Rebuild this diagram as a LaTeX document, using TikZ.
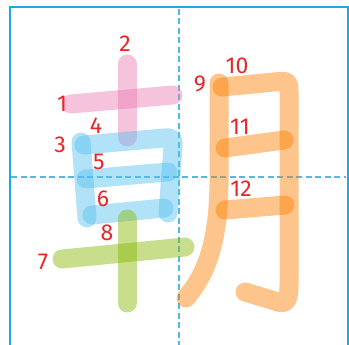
\documentclass[tikz,border=0pt]{standalone}
\usepackage{fontspec}
\newfontfamily\numfont[Numbers=Proportional]{Fira Sans}
\definecolor{framec}{RGB}{25,170,230}
\definecolor{dashc}{RGB}{80,185,232}
\definecolor{pinkc}{RGB}{235,124,177}
\definecolor{bluec}{RGB}{86,191,239}
\definecolor{greenc}{RGB}{135,184,0}
\definecolor{orangec}{RGB}{251,128,0}
\definecolor{labelc}{RGB}{232,38,42}
\tikzset{
  framel/.style={draw=framec, line width=2pt},
  guide/.style={draw=dashc, line width=1.2pt, dash pattern=on 6pt off 3.5pt},
  brush/.style={line width=19pt, line cap=round, line join=round, draw opacity=0.45},
  pinkstroke/.style={brush, draw=pinkc},
  bluestroke/.style={brush, draw=bluec},
  greenstroke/.style={brush, draw=greenc},
  orangestroke/.style={brush, draw=orangec},
  num/.style={text=labelc, font=\numfont\fontsize{23}{23}\selectfont, inner sep=0pt}
}
\begin{document}
\begin{tikzpicture}[x=1pt,y=-1pt]
\useasboundingbox (0,0) rectangle (349,345);
\fill[white] (0,0) rectangle (349,345);
% frame and guides
\draw[framel] (9.5,346) -- (9.5,7.5) -- (347.5,7.5) -- (347.5,346);
\draw[guide] (179,9) -- (179,346);
\draw[guide] (11,177) -- (346,177);
% pink strokes
\draw[pinkstroke] (71,104) -- (173,95);
\draw[pinkstroke] (127,64) -- (127,137);
% blue strokes
\draw[bluestroke] (81,142) -- (87,218);
\draw[bluestroke] (84,145) -- (164,138) .. controls (173,137.3) and (173.5,139) .. (173,147) -- (168,213);
\draw[bluestroke] (86,179) -- (168,172);
\draw[bluestroke] (92,215) -- (164,208);
% green strokes
\draw[greenstroke] (62,259) -- (185,247);
\draw[greenstroke] (127,219) -- (127,303);
% orange strokes
\draw[orangestroke] (219,83) -- (219,185) .. controls (218,240) and (208,272) .. (186,298);
\draw[orangestroke] (222,87) -- (279,81.5) .. controls (288,80.7) and (289,82) .. (289,92) -- (289,285) .. controls (289,303) and (285,305) .. (275,301) -- (245,292);
\draw[orangestroke] (225,148) -- (284,140);
\draw[orangestroke] (225,210) -- (285,205);
% labels
\node[num] (n1) at (62,104) {1};
\node[num] (n2) at (125,44) {2};
\node[num] (n3) at (60,145) {3};
\node[num] (n4) at (96,126) {4};
\node[num] (n5) at (99,162) {5};
\node[num] (n6) at (103,199) {6};
\node[num] (n7) at (43,262) {7};
\node[num] (n8) at (107,233) {8};
\node[num] (n9) at (200,84) {9};
\node[num] (n10) at (237,66) {10};
\node[num] (n11) at (240,127) {11};
\node[num] (n12) at (241,189) {12};
\end{tikzpicture}
\end{document}
